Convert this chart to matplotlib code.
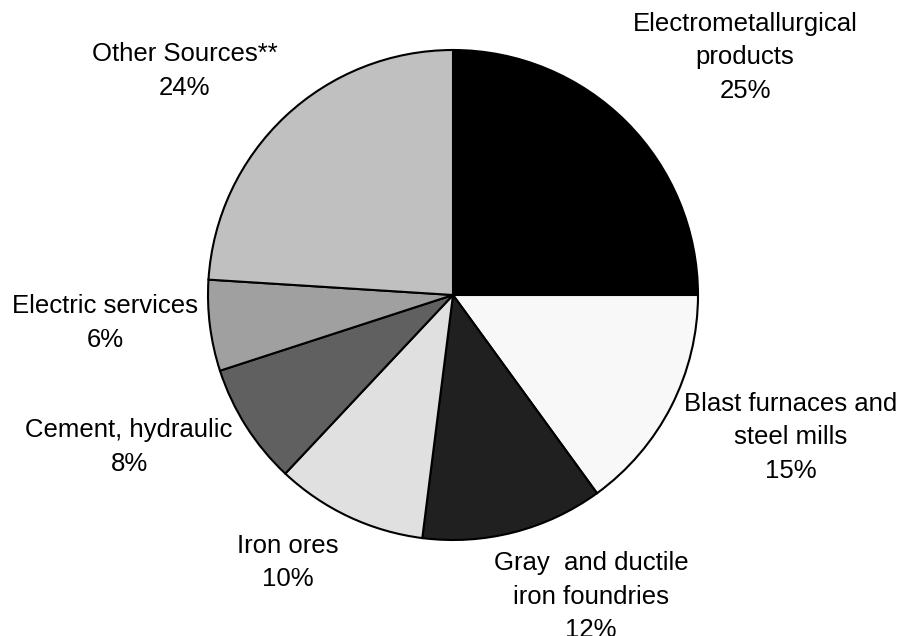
import matplotlib.pyplot as plt

# sources and shares (%)
sources = ["Electrometallurgical\nproducts", "Blast furnaces and\nsteel mills",
           "Gray  and ductile\niron foundries", "Iron ores", "Cement, hydraulic",
           "Electric services", "Other Sources**"]
shares = [25, 15, 12, 10, 8, 6, 24]
colors = ["#000000", "#f8f8f8", "#202020", "#e0e0e0", "#606060", "#a0a0a0", "#c0c0c0"]

# where each label block sits (in pie-radius units)
label_pos = [(1.192, 0.971), (1.38, -0.58), (0.563, -1.232), (-0.673, -1.092),
             (-1.322, -0.62), (-1.42, -0.114), (-1.095, 0.914)]

plt.rcParams['font.family'] = ['Liberation Sans', 'DejaVu Sans']

fig = plt.figure(figsize=(9.01, 6.36), dpi=100)
ax = fig.add_axes([0, 0, 1, 1])
ax.pie(shares, colors=colors, startangle=90, counterclock=False, radius=1,
       wedgeprops=dict(edgecolor="black", linewidth=1.5))

for name, val, (x, y) in zip(sources, shares, label_pos):
    ax.text(x, y, f"{name}\n{val}%", ha="center", va="center", fontsize=18.5,
            linespacing=1.5)

r = 245.0
ax.set_xlim(-453 / r, (901 - 453) / r)
ax.set_ylim(-(636 - 295) / r, 295 / r)
ax.set_aspect("auto")
ax.axis("off")

fig.savefig("out.png", dpi=100)
